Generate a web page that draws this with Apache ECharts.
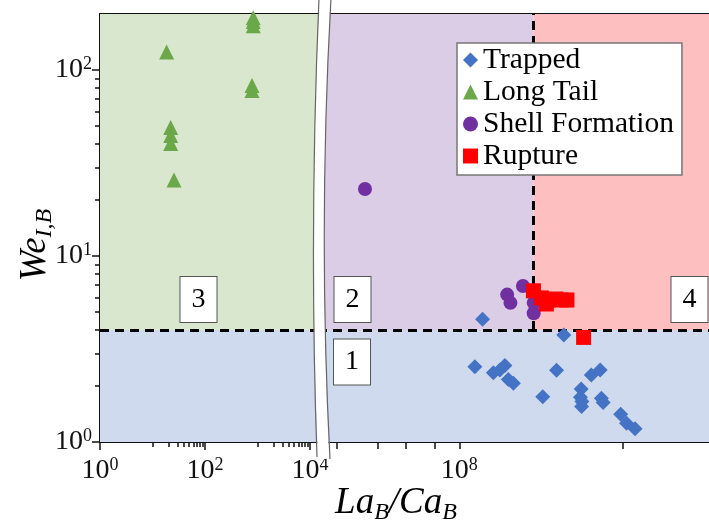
<!DOCTYPE html>
<html>
<head>
<meta charset="utf-8">
<title>Regime map</title>
<script src="https://cdn.jsdelivr.net/npm/echarts@6/dist/echarts.min.js"></script>
<style>
  html, body { margin: 0; padding: 0; background: #fff; }
  #chart { width: 709px; height: 522px; }
</style>
</head>
<body>
<div id="chart"></div>
<script>
// data (x = La_B/Ca_B, y = We_I,B)
const trappedX = [3.7e8, 3.6e10, 2.4e8, 6.8e8, 9.8e8, 1.3e9, 1.58e9, 2.1e9, 2.4e10, 1.1e10,
  9.6e10, 9.2e10, 1.0e11, 9.8e10, 1.7e11, 2.8e11, 3.0e11, 3.3e11, 8.9e11, 1.24e12, 2.0e12]
const trappedY = [4.57, 3.76, 2.54, 2.36, 2.44, 2.58, 2.17, 2.07, 2.43, 1.75,
  1.93, 1.74, 1.65, 1.55, 2.29, 2.44, 1.72, 1.63, 1.41, 1.26, 1.18]

const longTailX = [18.6, 830, 830, 830, 786, 786, 22.2, 22.2, 22.2, 25.7]
const longTailY = [125, 191, 182, 173, 82.6, 77.6, 49, 44.5, 40.3, 25.6]

const shellX = [4.9e5, 3.6e9, 1.48e9, 1.78e9, 6.6e9, 6.6e9]
const shellY = [22.9, 6.9, 6.2, 5.6, 5.6, 4.92]

const ruptureX = [6.5e9, 1.02e10, 1.52e10, 2.27e10, 3.2e10, 4.3e10, 1.35e10, 1.1e11]
const ruptureY = [6.5, 5.95, 5.8, 5.87, 5.8, 5.8, 5.52, 3.65]

// axis ranges / ticks
const yMin = 1, yMax = 200
const yMajor = [1, 10, 100]
const yMinor = [2, 3, 4, 5, 6, 7, 8, 9, 20, 30, 40, 50, 60, 70, 80, 90]
const xLeftMin = 1, xLeftMax = 14200
const xLeftMajor = [1, 100, 10000]
const xLeftMinor = [10, 20, 30, 40, 50, 60, 70, 80, 90, 1000, 2000, 3000, 4000, 5000, 6000, 7000, 8000, 9000]
const xRightMin = 3.47e4, xRightMax = 1.29e14
const xRightTicks = [1e5, 1e6, 5e6, 2.5e7, 1e8, 1e12]
const xRightLabels = [1e8]

// regime boundaries
const weCrit = 4
const laCaCrit = 6.5e9

const pairs = (xs, ys) => xs.map((x, i) => [x, ys[i]])

const serif = '"Liberation Serif", "Times New Roman", serif'
const black = '#111'

const powRich = {
  b: { fontSize: 28, fontFamily: serif, color: black, lineHeight: 30 },
  s: { fontSize: 18, fontFamily: serif, color: black, lineHeight: 16, verticalAlign: 'top' }
}
const powLabel = (v) => '{b|10}{s|' + Math.round(Math.log10(v)) + '}'

const titleRich = {
  a: { fontFamily: serif, fontStyle: 'italic', fontSize: 37, lineHeight: 44, fill: '#000' },
  b: { fontFamily: serif, fontStyle: 'italic', fontSize: 24, lineHeight: 24, verticalAlign: 'bottom', fill: '#000' }
}

const dashed = { color: '#000', width: 3, type: [9, 6] }

const chart = echarts.init(document.getElementById('chart'))

const option = {
  animation: false,
  grid: [
    { left: 100, top: 14, width: 218, height: 428, outerBoundsMode: 'none' },
    { left: 318, top: 14, width: 391, height: 428, outerBoundsMode: 'none' }
  ],
  xAxis: [
    {
      gridIndex: 0, type: 'log', logBase: 10, min: xLeftMin, max: xLeftMax, position: 'bottom',
      axisLine: { lineStyle: { color: black, width: 2 } },
      axisTick: { customValues: xLeftMajor, length: 8, lineStyle: { color: black, width: 1.5 } },
      axisLabel: { customValues: xLeftMajor, formatter: powLabel, rich: powRich, margin: 14 },
      splitLine: { show: false }, minorTick: { show: false }
    },
    {
      gridIndex: 0, type: 'log', min: xLeftMin, max: xLeftMax, position: 'bottom',
      axisLine: { show: false },
      axisTick: { customValues: xLeftMinor, length: 5, lineStyle: { color: black, width: 1.5 } },
      axisLabel: { show: false }, splitLine: { show: false }
    },
    {
      gridIndex: 0, type: 'value', position: 'top', min: 0, max: 1,
      axisLine: { lineStyle: { color: black, width: 2 } },
      axisTick: { show: false }, axisLabel: { show: false }, splitLine: { show: false }
    },
    {
      gridIndex: 1, type: 'log', min: xRightMin, max: xRightMax, position: 'bottom',
      axisLine: { lineStyle: { color: black, width: 2 } },
      axisTick: { customValues: xRightTicks, length: 7, lineStyle: { color: black, width: 1.5 } },
      axisLabel: { customValues: xRightLabels, formatter: powLabel, rich: powRich, margin: 14 },
      splitLine: { show: false }
    },
    {
      gridIndex: 1, type: 'value', position: 'top', min: 0, max: 1,
      axisLine: { lineStyle: { color: black, width: 2 } },
      axisTick: { show: false }, axisLabel: { show: false }, splitLine: { show: false }
    }
  ],
  yAxis: [
    {
      gridIndex: 0, type: 'log', min: yMin, max: yMax, position: 'left',
      axisLine: { lineStyle: { color: black, width: 2 } },
      axisTick: { customValues: yMajor, length: 8, lineStyle: { color: black, width: 1.5 } },
      axisLabel: { customValues: yMajor, formatter: powLabel, rich: powRich, margin: 8 },
      splitLine: { show: false }
    },
    {
      gridIndex: 0, type: 'log', min: yMin, max: yMax, position: 'left',
      axisLine: { show: false },
      axisTick: { customValues: yMinor, length: 5, lineStyle: { color: black, width: 1.5 } },
      axisLabel: { show: false }, splitLine: { show: false }
    },
    { gridIndex: 1, type: 'log', min: yMin, max: yMax, show: false }
  ],
  legend: {
    orient: 'vertical',
    left: 457, top: 43, z: 30,
    padding: [2, 8, 4, 6],
    itemGap: 2,
    itemWidth: 15, itemHeight: 15,
    backgroundColor: '#fff',
    borderColor: '#777', borderWidth: 1.5,
    textStyle: { fontFamily: serif, fontSize: 29.5, color: '#000', lineHeight: 30 },
    data: [
      { name: 'Trapped', icon: 'diamond' },
      { name: 'Long Tail', icon: 'triangle' },
      { name: 'Shell Formation', icon: 'circle' },
      { name: 'Rupture', icon: 'rect' }
    ]
  },
  series: [
    // background regions, left part
    {
      name: 'bgLeft', type: 'scatter', xAxisIndex: 0, yAxisIndex: 0, data: [], z: 1, silent: true,
      markArea: {
        silent: true,
        data: [
          [{ coord: [xLeftMin, weCrit], itemStyle: { color: '#d9e7ce' } }, { coord: [xLeftMax, yMax] }],
          [{ coord: [xLeftMin, yMin], itemStyle: { color: '#cfdaef' } }, { coord: [xLeftMax, weCrit] }]
        ]
      },
      markLine: {
        silent: true, symbol: 'none', label: { show: false },
        lineStyle: dashed,
        data: [{ yAxis: weCrit }]
      }
    },
    // background regions, right part
    {
      name: 'bgRight', type: 'scatter', xAxisIndex: 3, yAxisIndex: 2, data: [], z: 1, silent: true,
      markArea: {
        silent: true,
        data: [
          [{ coord: [xRightMin, weCrit], itemStyle: { color: '#dccde6' } }, { coord: [laCaCrit, yMax] }],
          [{ coord: [laCaCrit, weCrit], itemStyle: { color: '#fdbfbf' } }, { coord: [xRightMax, yMax] }],
          [{ coord: [xRightMin, yMin], itemStyle: { color: '#cfdaef' } }, { coord: [xRightMax, weCrit] }]
        ]
      },
      markLine: {
        silent: true, symbol: 'none', label: { show: false },
        lineStyle: dashed,
        data: [
          { yAxis: weCrit },
          [{ coord: [laCaCrit, weCrit] }, { coord: [laCaCrit, yMax] }]
        ]
      }
    },
    {
      name: 'Trapped', type: 'scatter', xAxisIndex: 3, yAxisIndex: 2, z: 5,
      symbol: 'diamond', symbolSize: 15,
      itemStyle: { color: '#4472c4', opacity: 1 },
      data: pairs(trappedX, trappedY)
    },
    {
      name: 'Long Tail', type: 'scatter', xAxisIndex: 0, yAxisIndex: 0, z: 5,
      symbol: 'triangle', symbolSize: 15,
      itemStyle: { color: '#6aa84a', opacity: 1 },
      data: pairs(longTailX, longTailY)
    },
    {
      name: 'Shell Formation', type: 'scatter', xAxisIndex: 3, yAxisIndex: 2, z: 5,
      symbol: 'circle', symbolSize: 14,
      itemStyle: { color: '#7030a0', opacity: 1 },
      data: pairs(shellX, shellY)
    },
    {
      name: 'Rupture', type: 'scatter', xAxisIndex: 3, yAxisIndex: 2, z: 5,
      symbol: 'rect', symbolSize: 15,
      itemStyle: { color: '#ff0000', opacity: 1 },
      data: pairs(ruptureX, ruptureY)
    }
  ],
  graphic: [
    // axis break
    {
      type: 'bezierCurve', z: 100, silent: true,
      shape: { x1: 325, y1: -2, cpx1: 313.5, cpy1: 230, x2: 323.5, y2: 459 },
      style: { stroke: '#fff', lineWidth: 11, fill: null }
    },
    {
      type: 'bezierCurve', z: 101, silent: true,
      shape: { x1: 319, y1: -2, cpx1: 309, cpy1: 230, x2: 317, y2: 457 },
      style: { stroke: '#666', lineWidth: 1.2, fill: null }
    },
    {
      type: 'bezierCurve', z: 101, silent: true,
      shape: { x1: 331, y1: -2, cpx1: 318, cpy1: 230, x2: 330, y2: 459 },
      style: { stroke: '#666', lineWidth: 1.2, fill: null }
    },
    // regime numbers
    ...[['3', 198.5, 299.5], ['2', 352.5, 299.5], ['1', 352, 362], ['4', 689.5, 299.5]].map(([t, x, y]) => ({
      type: 'text', x: x, y: y, z: 102, silent: true,
      style: {
        text: t, font: '28px ' + serif, fill: '#000',
        align: 'center', verticalAlign: 'middle',
        backgroundColor: '#fff', borderColor: '#555', borderWidth: 1,
        padding: [9, 11, 8, 11]
      }
    })),
    // axis titles
    {
      type: 'text', x: 35, y: 245, rotation: Math.PI / 2, z: 102, silent: true,
      style: { text: '{a|We}{b|I,B}', align: 'center', verticalAlign: 'middle', rich: titleRich }
    },
    {
      type: 'text', x: 396, y: 503, z: 102, silent: true,
      style: { text: '{a|La}{b|B}{a|/Ca}{b|B}', align: 'center', verticalAlign: 'middle', rich: titleRich }
    }
  ]
}

chart.setOption(option)
</script>
</body>
</html>
